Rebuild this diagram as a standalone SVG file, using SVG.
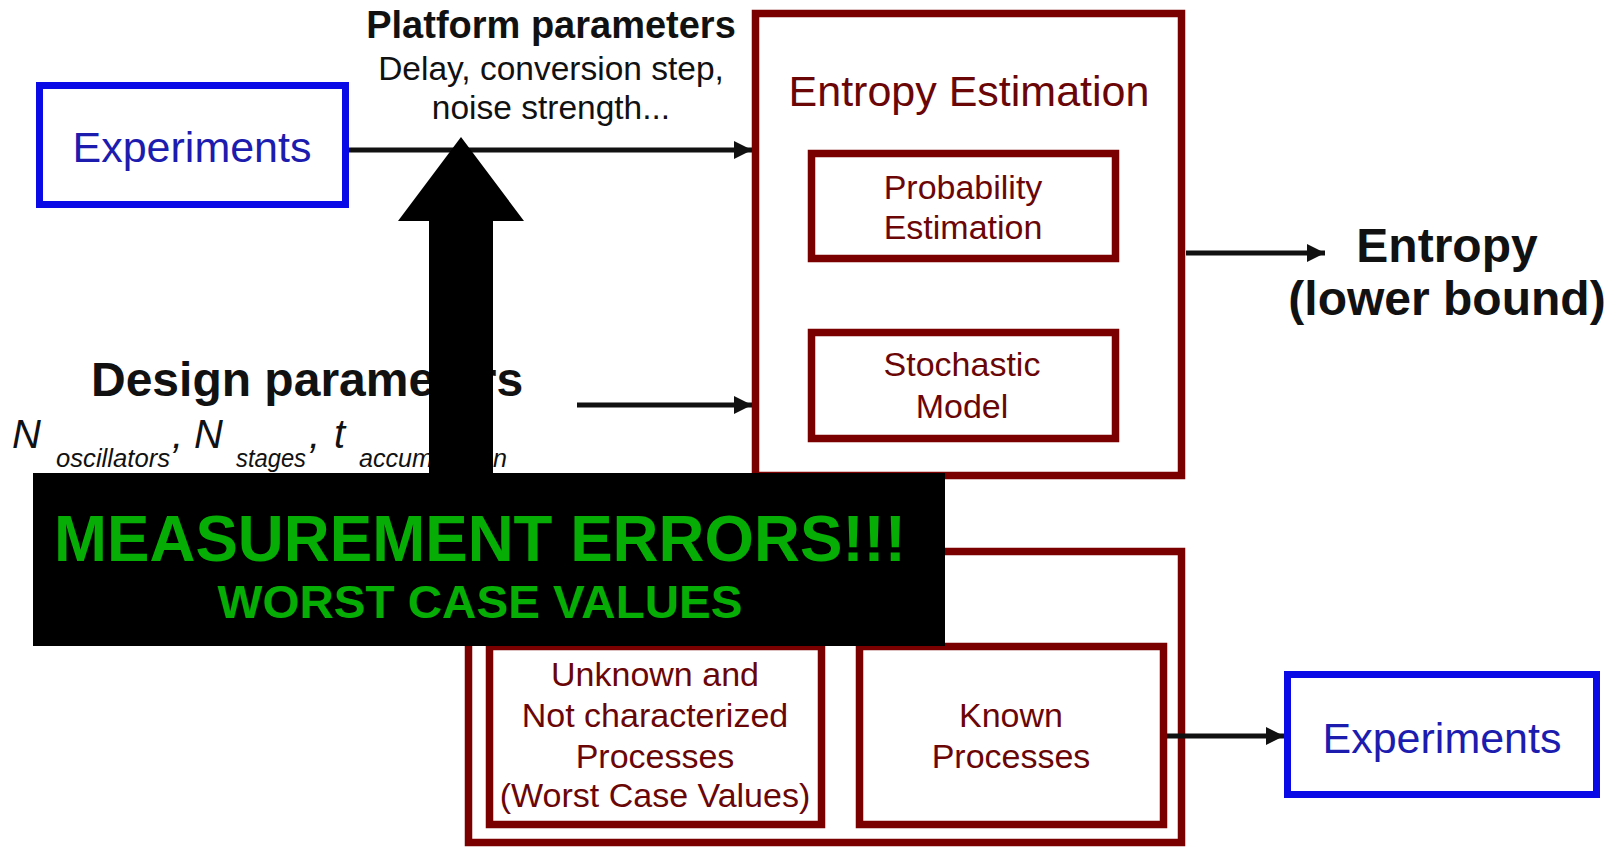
<svg xmlns="http://www.w3.org/2000/svg" width="1621" height="848" viewBox="0 0 1621 848">
  <style>
    .bluebox { fill: #ffffff; stroke: #0a0ae6; stroke-width: 7; }
    .redbox { fill: #ffffff; stroke: #7a0000; stroke-width: 7.5; }
    .bluetxt { font-family: "Liberation Sans", Arial, sans-serif; font-size: 43px; fill: #1c1caf; text-anchor: middle; }
    .redtxt { font-family: "Liberation Sans", Arial, sans-serif; font-size: 34px; fill: #6a0606; text-anchor: middle; }
    .title { font-family: "Liberation Sans", Arial, sans-serif; font-size: 43px; fill: #6a0606; text-anchor: middle; }
    .bold { font-family: "Liberation Sans", Arial, sans-serif; font-weight: bold; fill: #111111; }
    .plain { font-family: "Liberation Sans", Arial, sans-serif; fill: #111111; }
    .ital { font-family: "Liberation Sans", Arial, sans-serif; font-style: italic; fill: #111111; }
    .conn { stroke: #111111; stroke-width: 5; fill: none; marker-end: url(#head); }
    .green { font-family: "Liberation Sans", Arial, sans-serif; font-weight: bold; fill: #05ad05; text-anchor: middle; }
  </style>
  <defs>
    <marker id="head" markerUnits="userSpaceOnUse" markerWidth="20" markerHeight="20" refX="18" refY="10" orient="auto">
      <path d="M0,1 L18,10 L0,19 z" fill="#111111"/>
    </marker>
  </defs>

  <rect width="1621" height="848" fill="#ffffff"/>

  <!-- upper input: experiments -->
  <g id="experiments-in">
    <rect class="bluebox" x="39.5" y="85.5" width="306" height="119"/>
    <text class="bluetxt" x="192" y="162">Experiments</text>
  </g>

  <!-- platform parameter label -->
  <g id="platform-params">
    <text class="bold" x="551" y="38" font-size="38" text-anchor="middle">Platform parameters</text>
    <text class="plain" x="551" y="80" font-size="33.5" text-anchor="middle">Delay, conversion step,</text>
    <text class="plain" x="551" y="119" font-size="33.5" text-anchor="middle">noise strength...</text>
  </g>

  <!-- entropy estimation block -->
  <g id="entropy-estimation">
    <rect class="redbox" x="755.5" y="13.5" width="426" height="462"/>
    <text class="title" x="969" y="106">Entropy Estimation</text>
  </g>
  <g id="probability-estimation">
    <rect class="redbox" x="811.5" y="153.5" width="304" height="105"/>
    <text class="redtxt" x="963" y="199">Probability</text>
    <text class="redtxt" x="963" y="239">Estimation</text>
  </g>
  <g id="stochastic-model">
    <rect class="redbox" x="811.5" y="332.5" width="304" height="106"/>
    <text class="redtxt" x="962" y="376">Stochastic</text>
    <text class="redtxt" x="962" y="418">Model</text>
  </g>

  <!-- output label -->
  <g id="entropy-out">
    <text class="bold" x="1447" y="262" font-size="48" text-anchor="middle">Entropy</text>
    <text class="bold" x="1447" y="315" font-size="48" text-anchor="middle">(lower bound)</text>
  </g>

  <!-- design parameters -->
  <g id="design-params">
    <text class="bold" x="91" y="396" font-size="48">Design parameters</text>
    <text class="ital" y="448" font-size="40"><tspan x="12">N</tspan><tspan x="56" y="467" font-size="26" textLength="114" lengthAdjust="spacingAndGlyphs">oscillators</tspan><tspan x="172" y="448">,</tspan><tspan x="194">N</tspan><tspan x="236" y="467" font-size="26" textLength="70" lengthAdjust="spacingAndGlyphs">stages</tspan><tspan x="309" y="448">,</tspan><tspan x="334">t</tspan><tspan x="359" y="467" font-size="26" textLength="148" lengthAdjust="spacingAndGlyphs">accumulation</tspan></text>
  </g>

  <!-- lower block -->
  <g id="process-model">
    <rect class="redbox" x="468.5" y="551.5" width="713" height="291"/>
  </g>
  <g id="unknown-processes">
    <rect class="redbox" x="489.5" y="646.5" width="332" height="178"/>
    <text class="redtxt" x="655" y="686">Unknown and</text>
    <text class="redtxt" x="655" y="727">Not characterized</text>
    <text class="redtxt" x="655" y="768">Processes</text>
    <text class="redtxt" x="655" y="807">(Worst Case Values)</text>
  </g>
  <g id="known-processes">
    <rect class="redbox" x="859.5" y="646.5" width="304" height="178"/>
    <text class="redtxt" x="1011" y="727">Known</text>
    <text class="redtxt" x="1011" y="768">Processes</text>
  </g>
  <g id="experiments-out">
    <rect class="bluebox" x="1287.5" y="674.5" width="309" height="120"/>
    <text class="bluetxt" x="1442" y="753">Experiments</text>
  </g>

  <!-- connectors -->
  <g id="connectors">
    <line class="conn" x1="349" y1="150" x2="752" y2="150"/>
    <line class="conn" x1="577" y1="405" x2="752" y2="405"/>
    <line class="conn" x1="1186" y1="253" x2="1325" y2="253"/>
    <line class="conn" x1="1167" y1="736" x2="1284" y2="736" stroke-width="6.5"/>
  </g>

  <!-- overlay: upward arrow and warning banner -->
  <g id="up-arrow">
    <path d="M461,137 L524,221 L493,221 L493,480 L429,480 L429,221 L398,221 Z" fill="#000000"/>
  </g>
  <g id="warning-banner">
    <rect x="33" y="473" width="912" height="173" fill="#000000"/>
    <text class="green" x="480" y="561" font-size="64" textLength="852" lengthAdjust="spacingAndGlyphs">MEASUREMENT ERRORS!!!</text>
    <text class="green" x="480" y="618" font-size="47" textLength="525" lengthAdjust="spacingAndGlyphs">WORST CASE VALUES</text>
  </g>
</svg>
